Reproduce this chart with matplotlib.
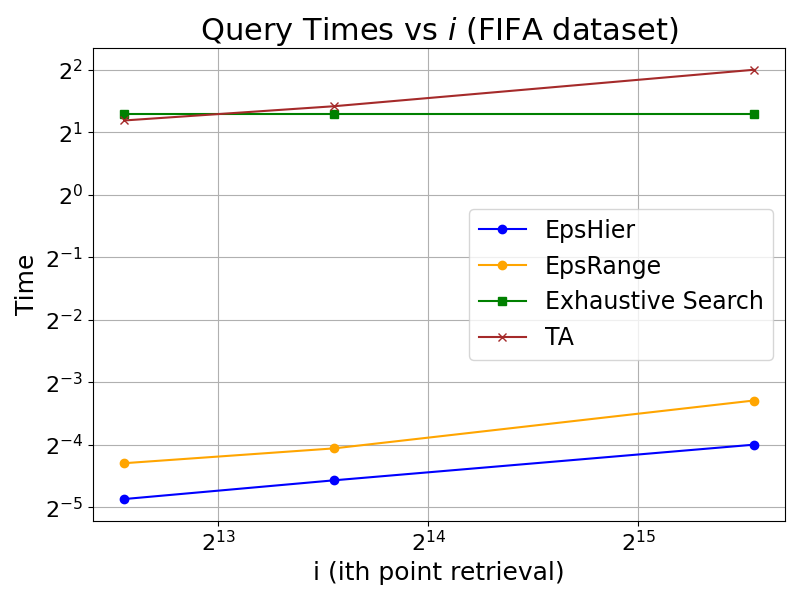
import matplotlib
matplotlib.use('Agg')
import matplotlib.pyplot as plt

i_values = [6000, 12000, 48000]
eps_hier = [0.0342, 0.0421, 0.0625]
eps_range = [0.0509, 0.0600, 0.102]
exhaustive = [2.44, 2.44, 2.44]
ta = [2.28, 2.67, 4.0]

fig, ax = plt.subplots(figsize=(8, 6), dpi=100)

ax.plot(i_values, eps_hier, marker='o', color='blue', label='EpsHier')
ax.plot(i_values, eps_range, marker='o', color='orange', label='EpsRange')
ax.plot(i_values, exhaustive, marker='s', color='green', label='Exhaustive Search')
ax.plot(i_values, ta, marker='x', color='brown', label='TA')

ax.set_xscale('log', base=2)
ax.set_yscale('log', base=2)

ax.set_title('Query Times vs $i$ (FIFA dataset)', fontsize=22)
ax.set_xlabel('i (ith point retrieval)', fontsize=18)
ax.set_ylabel('Time', fontsize=18)
ax.tick_params(axis='both', which='major', labelsize=16)
ax.grid(True)
ax.legend(fontsize=17, loc='center right')

plt.tight_layout()
plt.savefig('out.png')
